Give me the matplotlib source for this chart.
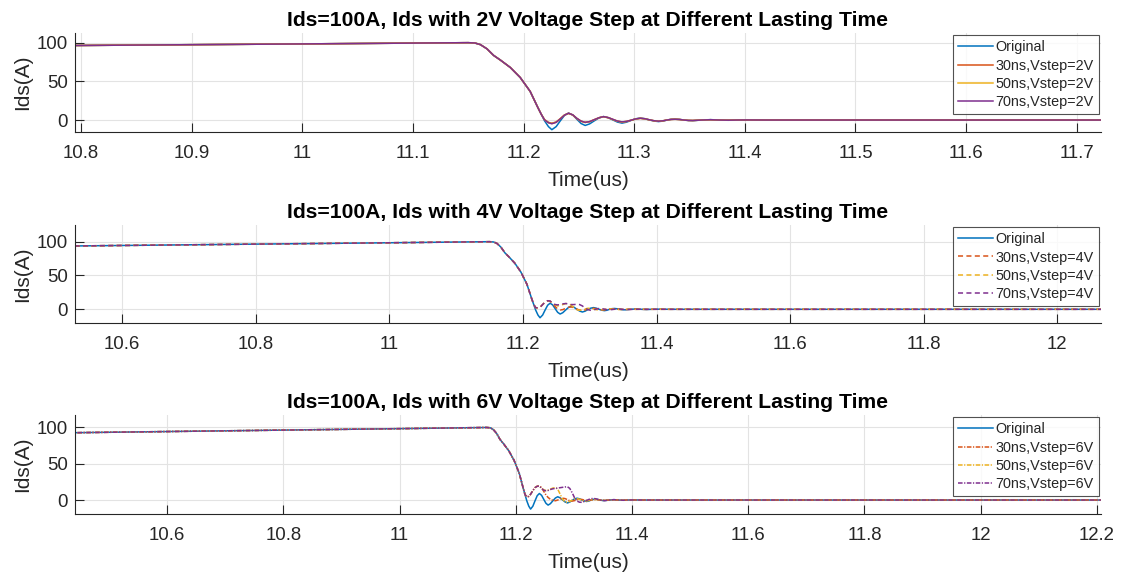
"""Ids turn-off waveforms with a gate voltage step of different lasting time (MATLAB-style look)."""

import matplotlib

matplotlib.use("Agg")
import matplotlib.pyplot as plt  # noqa: E402
from matplotlib.ticker import FuncFormatter, MultipleLocator  # noqa: E402

plt.rcParams["font.family"] = ["Liberation Sans", "DejaVu Sans"]

# --- data (time in us, current in A) --------------------------------------
# shared part before the ringing: slow ramp, then the turn-off edge
T_HEAD = [10.40, 11.00, 11.150, 11.156, 11.161, 11.167, 11.173, 11.179,
          11.188, 11.197, 11.206, 11.213]
I_HEAD = [92.4, 98.4, 100.0, 99.6, 97.5, 92.0, 83.5, 77.6,
          68.0, 55.0, 37.0, 16.0]

T_RING = [11.216, 11.219, 11.2225, 11.2256, 11.2295, 11.233, 11.237, 11.2407,
          11.2445, 11.2482, 11.252, 11.2557, 11.2597, 11.264, 11.2683, 11.2723,
          11.2765, 11.2806, 11.2848, 11.289, 11.293, 11.2972, 11.3013, 11.3055,
          11.3097, 11.3138, 11.318, 11.322, 11.3258, 11.3295, 11.3333, 11.337,
          11.341, 11.345, 11.349, 11.353, 11.361, 11.369, 11.377, 11.385,
          11.393, 11.401, 11.42, 12.30]

ORIGINAL = [7.5, -1.0, -8.5, -12.5, -8.5, -1.5, 6.0, 9.0,
            6.5, 1.0, -4.5, -7.0, -5.0, -1.0, 2.8, 4.5,
            3.0, 0.2, -2.6, -4.0, -2.8, -0.5, 1.6, 2.5,
            1.7, 0.1, -1.3, -2.0, -1.4, -0.1, 0.9, 1.2,
            0.8, 0.0, -0.6, -0.8, 0.0, 0.5, 0.0, -0.3,
            0.0, 0.2, 0.0, 0.0]

# 2V step
V2_30 = [7.5, 0.5, -3.0, -4.2, -2.5, 1.5, 6.5, 8.6,
         6.5, 2.0, -1.5, -3.0, -2.0, 0.5, 3.0, 4.3,
         3.0, 0.8, -1.4, -2.5, -1.8, -0.3, 1.4, 2.2,
         1.5, 0.2, -1.0, -1.6, -1.1, 0.0, 0.8, 1.0,
         0.7, 0.0, -0.5, -0.6, 0.0, 0.4, 0.0, -0.2,
         0.0, 0.1, 0.0, 0.0]
V2_50 = [7.5, 0.3, -3.3, -4.5, -2.8, 1.3, 6.4, 8.7,
         6.6, 2.0, -1.6, -3.2, -2.2, 0.4, 2.9, 4.3,
         3.1, 0.8, -1.5, -2.6, -1.9, -0.3, 1.3, 2.2,
         1.6, 0.2, -1.0, -1.6, -1.1, 0.0, 0.8, 1.0,
         0.7, 0.0, -0.5, -0.6, 0.0, 0.4, 0.0, -0.2,
         0.0, 0.1, 0.0, 0.0]
V2_70 = [7.5, 0.2, -3.5, -4.8, -3.0, 1.2, 6.3, 8.8,
         6.7, 2.2, -1.4, -3.0, -2.1, 0.5, 3.0, 4.4,
         3.2, 1.0, -1.3, -2.4, -1.8, -0.2, 1.4, 2.3,
         1.7, 0.3, -0.9, -1.5, -1.0, 0.0, 0.8, 1.0,
         0.7, 0.0, -0.5, -0.6, 0.0, 0.4, 0.0, -0.2,
         0.0, 0.1, 0.0, 0.0]

# 4V step
V4_30 = [7.5, 2.5, 2.0, 3.0, 7.0, 10.5, 12.5, 12.0,
         8.5, 4.0, 0.5, -1.0, -0.5, 1.5, 3.0, 3.5,
         2.2, 0.3, -1.2, -1.8, -1.0, 0.2, 1.2, 1.4,
         0.8, -0.2, -0.9, -1.0, -0.5, 0.2, 0.6, 0.7,
         0.4, 0.0, -0.3, -0.4, 0.0, 0.3, 0.0, -0.1,
         0.0, 0.1, 0.0, 0.0]
V4_50 = [7.5, 2.5, 2.0, 3.0, 7.0, 10.5, 12.5, 12.0,
         8.5, 6.5, 5.0, 5.5, 7.0, 8.5, 8.5, 6.0,
         2.5, -0.5, -1.5, -1.0, 0.5, 1.5, 1.4, 0.5,
         -0.5, -0.9, -0.6, 0.0, 0.5, 0.6, 0.3, 0.0,
         -0.3, -0.3, 0.0, 0.2, 0.1, -0.1, 0.0, 0.0,
         0.0, 0.0, 0.0, 0.0]
V4_70 = [7.5, 2.5, 2.0, 3.0, 7.0, 10.5, 12.7, 12.2,
         9.0, 7.0, 6.5, 7.0, 8.0, 8.5, 8.0, 7.0,
         7.0, 7.5, 7.0, 5.0, 2.0, -0.5, -1.5, -1.0,
         0.3, 1.2, 1.0, 0.2, -0.5, -0.7, -0.4, 0.1,
         0.4, 0.3, 0.0, -0.2, -0.2, 0.0, 0.1, 0.0,
         0.0, 0.0, 0.0, 0.0]

# 6V step
V6_30 = [7.5, 4.5, 5.0, 8.0, 13.0, 17.0, 19.0, 19.3,
         17.0, 12.0, 7.0, 3.5, 1.0, -0.5, -1.0, 0.0,
         1.5, 2.5, 2.0, 0.5, -1.0, -1.5, -0.8, 0.3,
         1.0, 0.8, 0.0, -0.6, -0.5, 0.0, 0.4, 0.5,
         0.3, 0.0, -0.2, -0.3, 0.0, 0.2, 0.0, -0.1,
         0.0, 0.1, 0.0, 0.0]
V6_50 = [7.5, 4.5, 5.0, 8.0, 13.0, 17.0, 19.0, 19.3,
         16.5, 14.0, 13.0, 13.5, 15.0, 16.5, 17.0, 15.0,
         8.0, 1.0, -2.5, -3.2, -2.0, 0.0, 1.5, 1.8,
         1.0, -0.3, -1.2, -1.3, -0.7, 0.2, 0.8, 0.9,
         0.5, 0.0, -0.4, -0.5, 0.0, 0.3, 0.0, -0.2,
         0.0, 0.1, 0.0, 0.0]
V6_70 = [7.5, 4.5, 5.0, 8.0, 13.0, 17.0, 19.0, 19.3,
         16.0, 13.5, 12.8, 13.2, 14.5, 15.5, 16.0, 16.5,
         17.0, 17.5, 18.0, 18.3, 16.0, 10.0, 3.0, -1.5,
         -3.0, -3.2, -2.0, -0.5, 0.8, 1.8, 2.2, 1.8,
         1.0, 0.0, -0.6, -0.8, 0.0, 0.5, 0.0, -0.3,
         0.0, 0.1, 0.0, 0.0]

LASTING = ["30ns", "50ns", "70ns"]
STEPS = {"2V": [V2_30, V2_50, V2_70],
         "4V": [V4_30, V4_50, V4_70],
         "6V": [V6_30, V6_50, V6_70]}

# --- styling ---------------------------------------------------------------
COLORS = ["#0072BD", "#D95319", "#EDB120", "#7E2F8E"]
DASHES = {"2V": "-", "4V": (0, (3.3, 2.2)), "6V": (0, (3.0, 1.0, 0.8, 1.0))}
AX_COLOR = "#262626"

# [left, bottom, width, height], xlim, ylim, x tick step
PANELS = {
    "2V": ([0.0668, 0.7708, 0.9145, 0.1719], (10.7946, 11.7219), (-15.5, 112.5), 0.1),
    "4V": ([0.0668, 0.4392, 0.9145, 0.1702], (10.5292, 12.0656), (-20.3, 124.7), 0.2),
    "6V": ([0.0668, 0.1076, 0.9145, 0.1719], (10.4415, 12.2072), (-19.3, 117.2), 0.2),
}


def _series(tail):
    assert len(tail) == len(T_RING)
    return T_HEAD + T_RING, I_HEAD + tail


def _style(ax, xlim, ylim, xstep):
    ax.set_xlim(*xlim)
    ax.set_ylim(*ylim)
    ax.xaxis.set_major_locator(MultipleLocator(xstep))
    ax.yaxis.set_major_locator(MultipleLocator(50))
    ax.xaxis.set_major_formatter(FuncFormatter(lambda v, _: f"{v:g}"))
    for side in ("top", "right"):
        ax.spines[side].set_visible(False)
    for side in ("left", "bottom"):
        ax.spines[side].set_color(AX_COLOR)
        ax.spines[side].set_linewidth(0.8)
    ax.tick_params(direction="in", length=6.5, width=0.8, color=AX_COLOR,
                   labelcolor=AX_COLOR, labelsize=13.4)
    ax.tick_params(axis="x", pad=9.5)
    ax.tick_params(axis="y", pad=5)
    ax.grid(True, color="#e3e3e3", linewidth=0.8)
    ax.set_axisbelow(True)
    ax.set_xlabel("Time(us)", fontsize=15, color=AX_COLOR, labelpad=6.5)
    ax.set_ylabel("Ids(A)", fontsize=15, color=AX_COLOR, labelpad=3)


fig = plt.figure(figsize=(11.22, 5.76), dpi=100)

for step, tails in STEPS.items():
    rect, xlim, ylim, xstep = PANELS[step]
    ax = fig.add_axes(rect)
    t, i = _series(ORIGINAL)
    ax.plot(t, i, color=COLORS[0], linewidth=1.1, label="Original")
    for k, (lasting, tail) in enumerate(zip(LASTING, tails)):
        t, i = _series(tail)
        ax.plot(t, i, color=COLORS[k + 1], linewidth=1.1, linestyle=DASHES[step],
                label=f"{lasting},Vstep={step}")
    _style(ax, xlim, ylim, xstep)
    ax.set_title(f"Ids=100A, Ids with {step} Voltage Step at Different Lasting Time",
                 fontsize=15.2, fontweight="bold", color="black", pad=5)
    leg = ax.legend(loc="upper right", fontsize=10.4, frameon=True, fancybox=False,
                    borderaxespad=0.15, handlelength=2.4, handletextpad=0.2,
                    labelspacing=0.3, borderpad=0.35)
    leg.get_frame().set_edgecolor(AX_COLOR)
    leg.get_frame().set_linewidth(0.8)
    for txt in leg.get_texts():
        txt.set_color(AX_COLOR)

fig.savefig("out.png", dpi=100)
